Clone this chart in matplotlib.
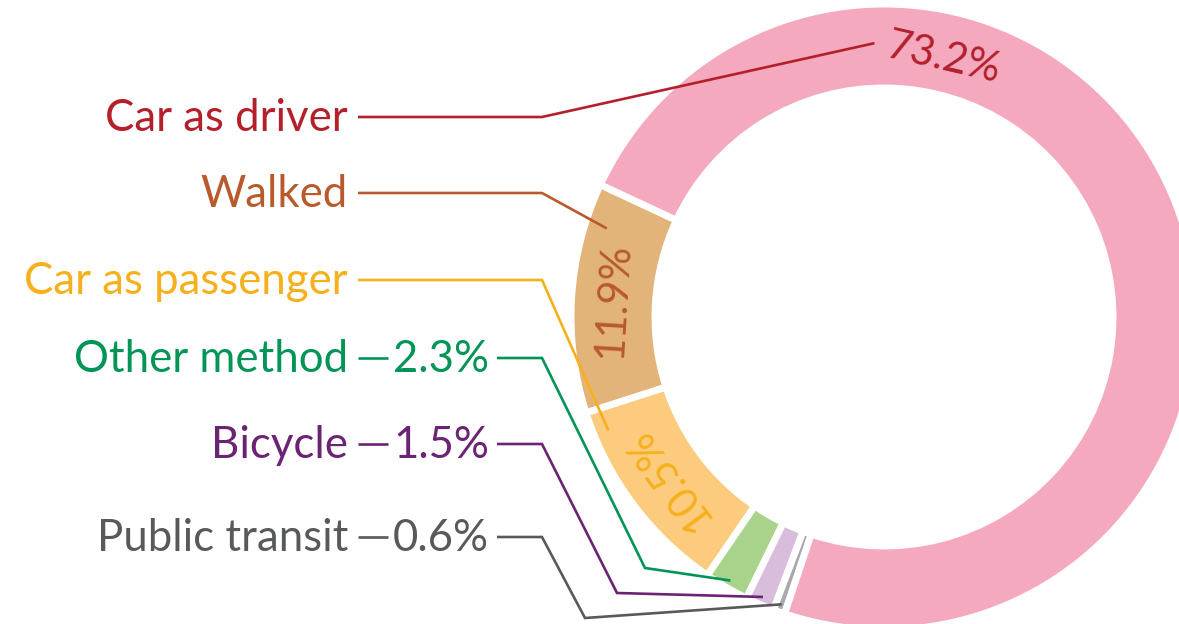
import matplotlib
matplotlib.use('Agg')
import matplotlib.pyplot as plt
import numpy as np

# ---- data (counter-clockwise order from the upper-left gap) ----
categories = ["Walked", "Car as passenger", "Other method", "Bicycle", "Public transit", "Car as driver"]
values = [11.9, 10.5, 2.3, 1.5, 0.6, 73.2]
value_labels = ["11.9%", "10.5%", "2.3%", "1.5%", "0.6%", "73.2%"]
ring_colors = ["#E3B47A", "#FCCB7D", "#A9D38B", "#D9BDDD", "#A7A9AC", "#F4A9BE"]
text_colors = ["#B85A2B", "#F6B01C", "#009457", "#6B2374", "#58595B", "#B3202B"]
row_order = ["Car as driver", "Walked", "Car as passenger", "Other method", "Bicycle", "Public transit"]

plt.rcParams['font.family'] = ['Lato', 'DejaVu Sans']

W, H = 1179, 624
fig = plt.figure(figsize=(W / 100, H / 100), dpi=100)
ax = fig.add_axes([0, 0, 1, 1])

cx, cy = 884, H - 317
R_out, R_in = 313, 229
wedges, _ = ax.pie(values, colors=ring_colors, radius=R_out, center=(cx, cy),
                   startangle=155, counterclock=True,
                   wedgeprops=dict(width=R_out - R_in, edgecolor='white', linewidth=5))
ax.set_xlim(0, W)
ax.set_ylim(0, H)
ax.set_aspect('equal')
ax.axis('off')


def polar(ang, r):
    a = np.deg2rad(ang)
    return cx + r * np.cos(a), cy + r * np.sin(a)


row_y = dict(zip(row_order, [117, 193, 280, 358, 444, 537]))
elbows = {"Other method": (645, 568), "Bicycle": (617, 593), "Public transit": (585, 618)}
FS = 31.5
FS_IN = 30
FW = 'normal'
LW = 1.9
x_text_end = 348
x_line_start = 358
x_elbow = 542

for i, cat in enumerate(categories):
    w = wedges[i]
    t1, t2 = w.theta1, w.theta2
    col = text_colors[i]
    y = H - row_y[cat]
    ax.text(x_text_end, y - 14, cat, ha='right', va='baseline', fontsize=FS, color=col,
            fontweight=FW)
    if cat == "Car as driver":
        ex, ey = polar(92, 274)
        ax.plot([x_line_start, x_elbow, ex], [y, y, ey], color=col, lw=LW, solid_capstyle='butt')
        tx, ty = polar(77, 266)
        ax.text(tx, ty, value_labels[i], rotation=77 - 90, rotation_mode='anchor',
                ha='center', va='center', fontsize=FS_IN, color=col, fontweight=FW)
    elif cat in ("Walked", "Car as passenger"):
        frac = 0.17 if cat == "Walked" else 0.12
        rr = 291 if cat == "Walked" else 298
        ex, ey = polar(t1 + frac * (t2 - t1), rr)
        ax.plot([x_line_start, x_elbow, ex], [y, y, ey], color=col, lw=LW, solid_capstyle='butt')
        mid = 0.5 * (t1 + t2)
        tx, ty = polar(mid, 271)
        ax.text(tx, ty, value_labels[i], rotation=mid - 90, rotation_mode='anchor',
                ha='center', va='center', fontsize=FS_IN, color=col, fontweight=FW)
    else:
        ax.plot([x_line_start, 388], [y, y], color=col, lw=LW, solid_capstyle='butt')
        ax.text(393, y - 14, value_labels[i], ha='left', va='baseline', fontsize=FS, color=col,
                fontweight=FW)
        mid = 0.5 * (t1 + t2)
        ex, ey = polar(mid, 305)
        bx, by = elbows[cat]
        ax.plot([497, x_elbow, bx, ex], [y, y, H - by, ey], color=col, lw=LW,
                solid_capstyle='butt', solid_joinstyle='miter')

fig.savefig('out.png', dpi=100, facecolor='white')
